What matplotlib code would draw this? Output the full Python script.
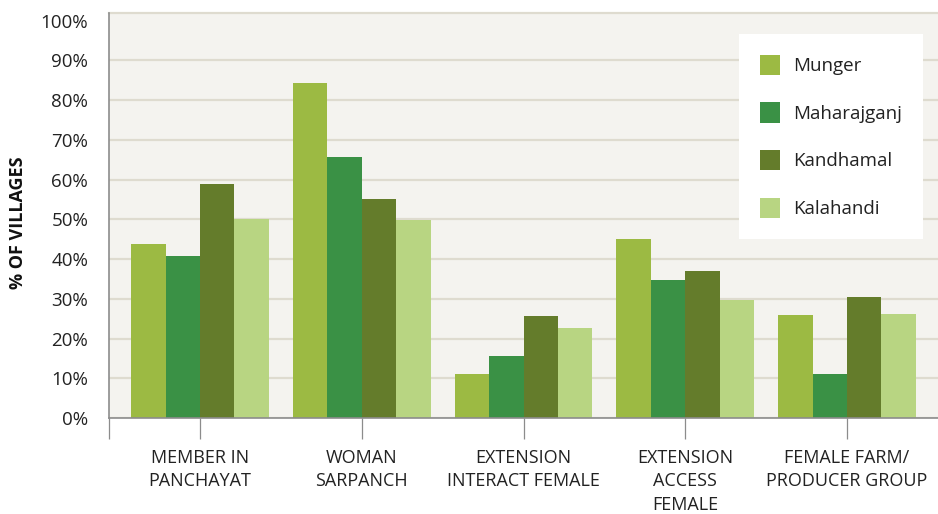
import numpy as np
import matplotlib
matplotlib.use("Agg")
from matplotlib import pyplot as plt
from matplotlib.patches import Patch

# dados
categorias = ["MEMBER IN\nPANCHAYAT", "WOMAN\nSARPANCH", "EXTENSION\nINTERACT FEMALE",
              "EXTENSION\nACCESS\nFEMALE", "FEMALE FARM/\nPRODUCER GROUP"]
distritos = ["Munger", "Maharajganj", "Kandhamal", "Kalahandi"]
munger = [43.7, 84.2, 11.0, 45.0, 25.9]
maharajganj = [40.7, 65.6, 15.5, 34.7, 11.0]
kandhamal = [58.8, 55.0, 25.6, 37.0, 30.4]
kalahandi = [50.0, 49.7, 22.6, 29.6, 26.1]
yticks = [0, 10, 20, 30, 40, 50, 60, 70, 80, 90, 100]

cores = ["#9CBA43", "#3A9145", "#647C2B", "#B8D582"]
series = [munger, maharajganj, kandhamal, kalahandi]
fonte = ["Open Sans", "DejaVu Sans"]
cor_grade = "#DEDBCF"

fig = plt.figure(figsize=(9.38, 5.14), dpi=100)
ax = fig.add_axes([109/938, 96/514, 1 - 109/938, (418 - 13)/514])
ax.set_facecolor("#F4F3EF")

x = np.arange(len(categorias))
w = 0.213
for i in range(len(series)):
    ax.bar(x + (i - 1.5) * w, series[i], width=w, color=cores[i], zorder=3, label=distritos[i])

ax.set_xlim(-0.563, len(categorias) - 1 + 0.563)
ax.set_ylim(0, 101.9)
ax.set_yticks(yticks)
ax.set_yticklabels(["%d%%" % v for v in yticks], fontsize=13.5, family=fonte, color="#222222")
ax.tick_params(axis="y", length=0, pad=15)
ax.grid(axis="y", color=cor_grade, lw=1.6, zorder=1)
# a linha de 100% não aparece no original, só a borda de cima
ax.yaxis.get_gridlines()[-1].set_visible(False)

ax.set_xticks(x)
ax.set_xticklabels(categorias, fontsize=13, family=fonte, color="#222222", linespacing=1.42)
ax.set_xticks([-0.563], minor=True)
ax.tick_params(axis="x", which="both", length=15, width=0.9, color="#8C8C8C", pad=7)

ax.spines["right"].set_visible(False)
ax.spines["top"].set_color(cor_grade)
ax.spines["top"].set_linewidth(1.6)
for s in ["left", "bottom"]:
    ax.spines[s].set_color("#8C8C8C")
    ax.spines[s].set_linewidth(1.2)
    ax.spines[s].set_zorder(4)

fig.text(18/938, 1 - 223/514, "% OF VILLAGES", rotation=90, ha="center", va="center",
         fontsize=13, fontweight="bold", family=fonte, color="#111111")

handles = [Patch(facecolor=c, edgecolor="none") for c in cores]
leg = ax.legend(handles, distritos, loc="upper left", bbox_to_anchor=(739/938, 1 - 34/514),
                bbox_transform=fig.transFigure, frameon=True, fancybox=False, framealpha=1,
                prop={"family": fonte, "size": 13.5},
                handlelength=1.1, handleheight=1.3, handletextpad=0.7, labelspacing=1.45,
                borderpad=1.1, borderaxespad=0)
leg.get_frame().set_facecolor("white")
leg.get_frame().set_edgecolor("none")
leg.set_zorder(5)
for t in leg.get_texts():
    t.set_color("#222222")

fig.savefig("out.png", dpi=100, facecolor="white")
